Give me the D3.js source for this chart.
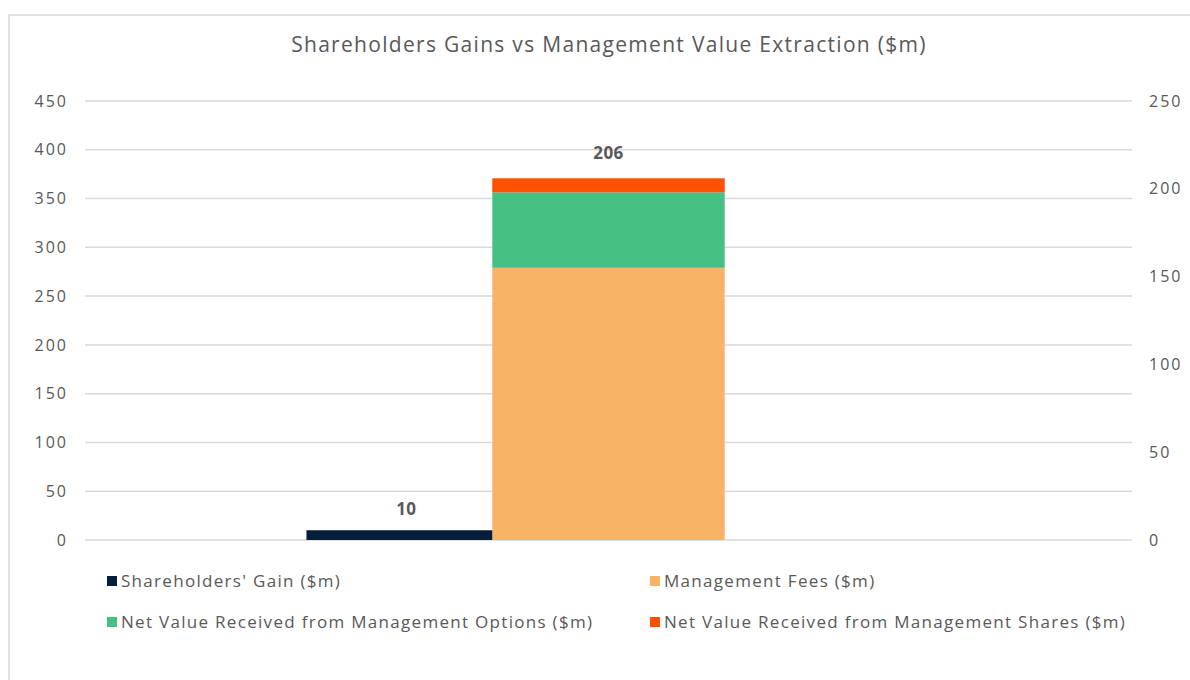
<!DOCTYPE html>
<html lang="en">
<head>
<meta charset="utf-8">
<title>Shareholders Gains vs Management Value Extraction</title>
<script src="https://d3js.org/d3.v7.min.js"></script>
<style>
  body { margin: 0; background: #fff; }
  svg text { font-family: "Open Sans", Lato, sans-serif; fill: #595959; }
</style>
</head>
<body>
<div id="chart"></div>
<script>
// data
var categories = ["Total"];
var gainSeries = ["Shareholders' Gain ($m)"];
var gainValues = [10];                     // left (primary) axis
var stackSeries = ["Management Fees ($m)",
                   "Net Value Received from Management Options ($m)",
                   "Net Value Received from Management Shares ($m)"];
var stackValues = [[155, 43, 8]];          // right (secondary) axis, per category
var leftTicks = [0, 50, 100, 150, 200, 250, 300, 350, 400, 450];
var rightTicks = [0, 50, 100, 150, 200, 250];

var colors = {
  "Shareholders' Gain ($m)": "#041e3b",
  "Management Fees ($m)": "#f8b366",
  "Net Value Received from Management Options ($m)": "#46c183",
  "Net Value Received from Management Shares ($m)": "#ff5001"
};

var width = 1190, height = 680;
var plot = { left: 85, right: 1132, top: 101, bottom: 540 };

var svg = d3.select('#chart').append('svg')
    .attr('width', width)
    .attr('height', height);

// chart frame
svg.append('rect')
    .attr('x', 9).attr('y', 15)
    .attr('width', 1200).attr('height', 700)
    .attr('fill', 'none')
    .attr('stroke', '#d9d9d9')
    .attr('stroke-width', 1.5);

svg.append('text')
    .attr('x', 609).attr('y', 52)
    .attr('text-anchor', 'middle')
    .attr('font-size', '21px')
    .attr('letter-spacing', '1.3px')
    .text('Shareholders Gains vs Management Value Extraction ($m)');

var x = d3.scaleBand().domain(categories).range([plot.left, plot.right]);
var yLeft = d3.scaleLinear().domain([0, 450]).range([plot.bottom, plot.top]);
var yRight = d3.scaleLinear().domain([0, 250]).range([plot.bottom, plot.top]);

// gridlines
svg.append('g').selectAll('line')
    .data(leftTicks)
    .enter().append('line')
    .attr('x1', plot.left).attr('x2', plot.right)
    .attr('y1', function (d) { return yLeft(d); })
    .attr('y2', function (d) { return yLeft(d); })
    .attr('stroke', '#d9d9d9')
    .attr('stroke-width', 1.5);

// axes (labels only)
var leftAxis = svg.append('g')
    .attr('transform', 'translate(' + (plot.left - 17) + ',0)')
    .call(d3.axisLeft(yLeft).tickValues(leftTicks).tickSize(0).tickPadding(0));
var rightAxis = svg.append('g')
    .attr('transform', 'translate(' + (plot.right + 17) + ',0)')
    .call(d3.axisRight(yRight).tickValues(rightTicks).tickSize(0).tickPadding(0));
[leftAxis, rightAxis].forEach(function (a) {
  a.select('.domain').remove();
  a.selectAll('text')
      .attr('font-size', '16px')
      .attr('letter-spacing', '2px')
      .attr('font-family', null)
      .attr('fill', '#595959');
});

// stacked bar on the secondary axis, centred in the category
var stackW = x.bandwidth() * 0.222;
var stackData = categories.map(function (c, i) {
  var row = { cat: c };
  stackSeries.forEach(function (s, j) { row[s] = stackValues[i][j]; });
  return row;
});
var layers = d3.stack().keys(stackSeries)(stackData);

svg.append('g').selectAll('g')
    .data(layers)
    .enter().append('g')
    .attr('fill', function (d) { return colors[d.key]; })
    .selectAll('rect')
    .data(function (d) { return d; })
    .enter().append('rect')
    .attr('x', function (d) { return x(d.data.cat) + (x.bandwidth() - stackW) / 2; })
    .attr('width', stackW)
    .attr('y', function (d) { return yRight(d[1]); })
    .attr('height', function (d) { return yRight(d[0]) - yRight(d[1]); });

// total label
svg.append('g').selectAll('text')
    .data(stackData)
    .enter().append('text')
    .attr('x', function (d) { return x(d.cat) + x.bandwidth() / 2; })
    .attr('y', function (d) { return yRight(d3.sum(stackSeries, function (s) { return d[s]; })) - 19; })
    .attr('text-anchor', 'middle')
    .attr('font-size', '17px')
    .attr('font-weight', 'bold')
    .attr('letter-spacing', '0.5px')
    .attr('fill', '#404040')
    .text(function (d) { return d3.sum(stackSeries, function (s) { return d[s]; }); });

// shareholders' gain bar on the primary axis, just left of the stack
var gainW = x.bandwidth() * 0.1775;
svg.append('g').selectAll('rect')
    .data(gainValues)
    .enter().append('rect')
    .attr('x', function (d, i) { return x(categories[i]) + (x.bandwidth() - stackW) / 2 - gainW; })
    .attr('width', gainW)
    .attr('y', function (d) { return yLeft(d); })
    .attr('height', function (d) { return yLeft(0) - yLeft(d); })
    .attr('fill', colors[gainSeries[0]]);

svg.append('g').selectAll('text')
    .data(gainValues)
    .enter().append('text')
    .attr('x', function (d, i) { return x(categories[i]) + (x.bandwidth() - stackW) / 2 - gainW / 2 + 7; })
    .attr('y', function (d) { return yLeft(d) - 15; })
    .attr('text-anchor', 'middle')
    .attr('font-size', '17px')
    .attr('font-weight', 'bold')
    .attr('letter-spacing', '0.5px')
    .attr('fill', '#404040')
    .text(function (d) { return d; });

// legend, two columns
var legendItems = gainSeries.concat(stackSeries);
var legend = svg.append('g').selectAll('g')
    .data(legendItems)
    .enter().append('g')
    .attr('transform', function (d, i) {
      return 'translate(' + (i % 2 === 0 ? 107 : 650) + ',' + (581 + Math.floor(i / 2) * 41) + ')';
    });
legend.append('rect')
    .attr('x', 0).attr('y', -5)
    .attr('width', 10).attr('height', 10)
    .attr('fill', function (d) { return colors[d]; });
legend.append('text')
    .attr('x', 14).attr('y', 0)
    .attr('dy', '0.35em')
    .attr('font-size', '17px')
    .attr('letter-spacing', '1.3px')
    .text(function (d) { return d; });
</script>
</body>
</html>
